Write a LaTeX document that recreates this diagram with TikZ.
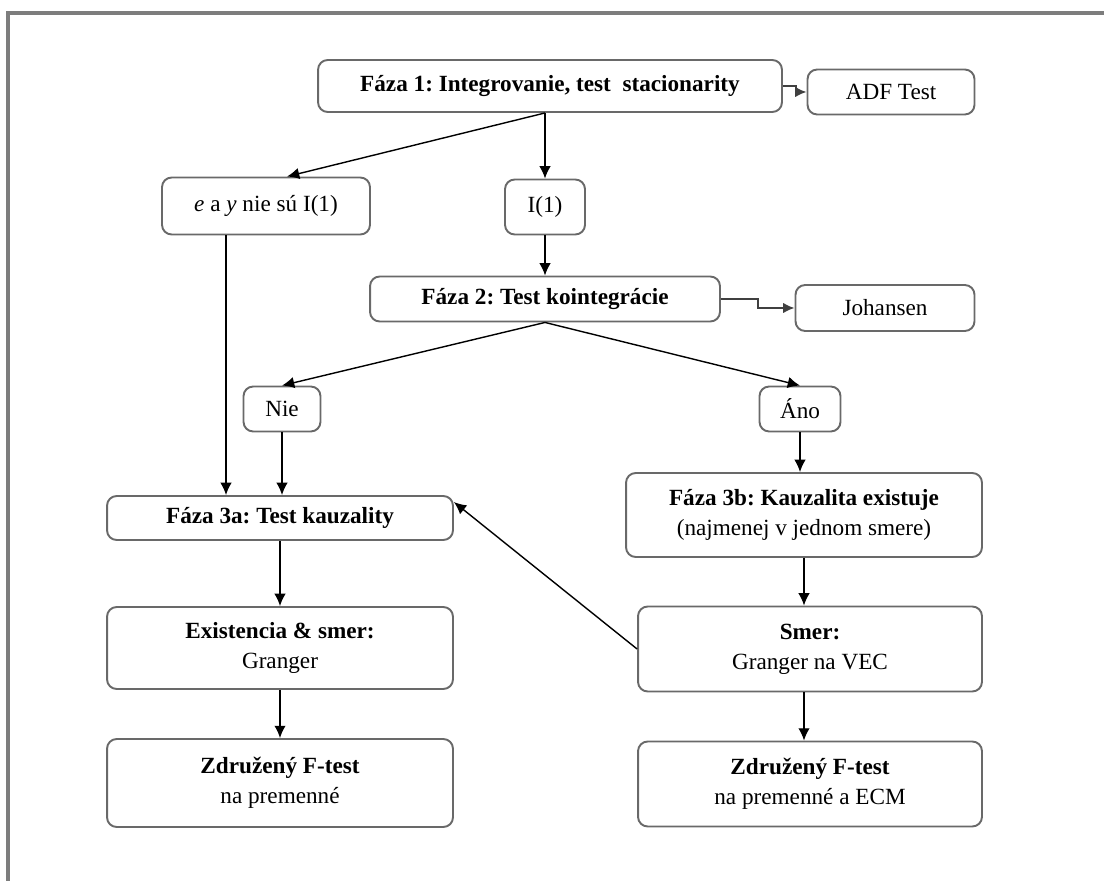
\documentclass[tikz,border=0pt]{standalone}
\usepackage{fontspec}
\setmainfont{Liberation Serif}
\usepackage{xcolor}
\usepackage{tikz}
\usetikzlibrary{arrows.meta,shapes,backgrounds}
\definecolor{framegray}{RGB}{125,125,125}
\definecolor{boxgray}{RGB}{105,105,105}
\frenchspacing

\begin{document}
\begin{tikzpicture}[x=0.02cm,y=-0.02cm,
	font=\fontsize{13.2}{17}\selectfont]

	\tikzstyle{phase}=[draw=boxgray,line width=1.1pt,rounded corners=5.5pt,align=center,inner sep=0pt]
	\tikzstyle{flow}=[-{Latex[length=7pt,width=6.5pt]},line width=0.8pt]
	\tikzstyle{side}=[-{Latex[length=6.5pt,width=6pt]},line width=1.1pt,draw=black!75]
	\useasboundingbox (0,0) rectangle (1104,881);
	\draw[framegray,line width=1.8pt] (8,881) -- (8,13) -- (1104,13);
	\begin{scope}
	\node[phase,minimum width=9.28cm,minimum height=1.04cm] (f1) at (550,86) {\textbf{Fáza 1: Integrovanie, test\ \ stacionarity}};
	\node[phase,minimum width=3.34cm,minimum height=0.9cm] (adf) at (891,92) {ADF Test};
	\node[phase,minimum width=4.16cm,minimum height=1.14cm] (ney) at (266,206) {\textit{e} a \textit{y} nie sú I(1)};
	\node[phase,minimum width=1.6cm,minimum height=1.1cm] (i1) at (545,207) {I(1)};
	\node[phase,minimum width=7cm,minimum height=0.9cm] (f2) at (545,299) {\textbf{Fáza 2: Test kointegrácie}};
	\node[phase,minimum width=3.58cm,minimum height=0.92cm] (joh) at (885,308) {Johansen};
	\node[phase,minimum width=1.54cm,minimum height=0.9cm] (nie) at (282,409) {Nie};
	\node[phase,minimum width=1.62cm,minimum height=0.9cm] (ano) at (800,409) {Áno};
	\node[phase,minimum width=6.92cm,minimum height=0.88cm] (f3a) at (280,518) {\textbf{Fáza 3a: Test kauzality}};
	\node[phase,minimum width=7.12cm,minimum height=1.68cm] (f3b) at (804,515) {\textbf{Fáza 3b: Kauzalita existuje}\\(najmenej v jednom smere)};
	\node[phase,minimum width=6.92cm,minimum height=1.64cm] (ex) at (280,648) {\textbf{Existencia \& smer:}\\Granger};
	\node[phase,minimum width=6.88cm,minimum height=1.7cm] (smer) at (810,649) {\textbf{Smer:}\\Granger na VEC};
	\node[phase,minimum width=6.92cm,minimum height=1.76cm] (zl) at (280,783) {\textbf{Združený F-test}\\na premenné};
	\node[phase,minimum width=6.88cm,minimum height=1.7cm] (zr) at (810,784) {\textbf{Združený F-test}\\na premenné a ECM};
	\end{scope}

	\coordinate (f1s) at (f1.south -| i1.north);
	\draw[side] (f1.east) -- ++(13,0) |- (adf.west);
	\draw[side] (f2.east) -- ++(37,0) |- (joh.west);
	\draw[flow] (f1s) -- (i1.north);
	\draw[flow] (f1s) -- ([xshift=0.42cm]ney.north);
	\draw[flow] (i1.south) -- (i1.south |- f2.north);
	\draw[flow] (f2.south) -- (nie.north);
	\draw[flow] (f2.south) -- (ano.north);
	\draw[flow] ([xshift=-0.8cm]ney.south) -- ([xshift=-0.8cm]ney.south |- f3a.north);
	\draw[flow] (nie.south) -- (nie.south |- f3a.north);
	\draw[flow] (ano.south) -- (ano.south |- f3b.north);
	\draw[flow] (f3a.south) -- (ex.north);
	\draw[flow] (ex.south) -- (zl.north);
	\draw[flow] (f3b.south) -- (f3b.south |- smer.north);
	\draw[flow] (f3b.south |- smer.south) -- (f3b.south |- zr.north);
	\draw[flow] (smer.west) -- ([yshift=-0.14cm]f3a.north east);

\end{tikzpicture}
\end{document}
